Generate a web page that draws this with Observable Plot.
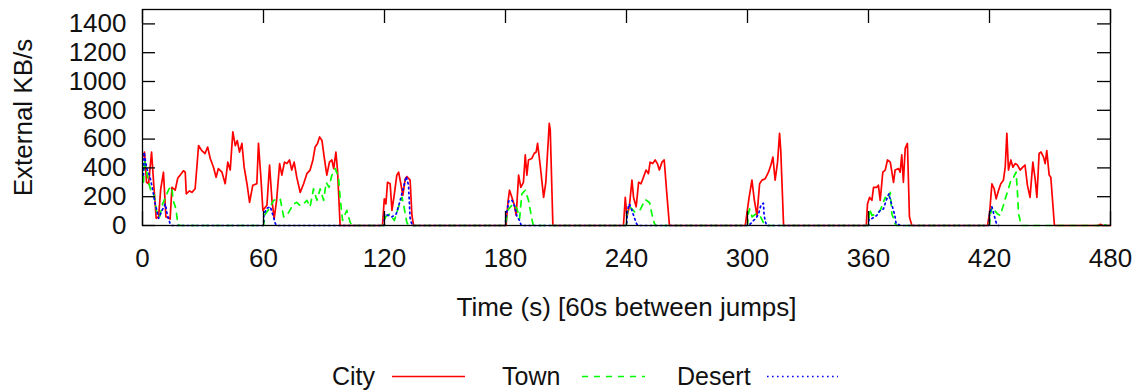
<!DOCTYPE html>
<html>
<head>
<meta charset="utf-8">
<script src="https://cdn.jsdelivr.net/npm/d3@7"></script>
<script src="https://cdn.jsdelivr.net/npm/@observablehq/plot@0.6"></script>
<style>
  html, body { margin: 0; padding: 0; background: #fff; }
  #chart { width: 1135px; }
  svg text { font-family: "Liberation Sans", Arial, Helvetica, sans-serif; }
</style>
</head>
<body>
<div id="chart"></div>
<div id="legend"></div>
<script>
// External traffic per location, [time (s), KB/s]
const city = [
  [0.5, 480], [1, 510], [2, 300], [3, 290], [4.5, 510], [5.5, 300], [6.8, 50], [8, 60], [9, 250],
  [10.4, 370], [11.6, 60], [13.7, 45], [14.6, 265], [16.2, 245], [17.5, 330], [18.7, 350], [20.3, 380],
  [21.2, 370], [21.7, 220], [23.3, 240], [24.5, 230], [26.1, 255], [27.8, 555], [29.4, 520], [31, 500],
  [32.3, 545], [33.6, 465], [35.2, 405], [36.5, 335], [37.6, 395], [39.4, 370], [41, 290], [42.3, 440],
  [43.5, 385], [44.8, 650], [46, 555], [47, 590], [48.1, 510], [49.3, 570], [50.4, 405], [51.8, 290],
  [53.1, 160], [54.7, 280], [56.7, 290], [57.5, 570], [58.7, 335], [59.7, 105], [61.7, 140], [63, 420],
  [64.2, 175], [65.3, 50], [66.5, 175], [68, 430], [69.1, 350], [70.4, 440], [71.6, 430], [72.9, 455],
  [74, 385], [75.2, 440], [76.5, 335], [78.2, 230], [79.9, 290], [81.5, 360], [83.1, 385], [84.5, 455],
  [85.6, 545], [86.8, 570], [87.8, 615], [89, 590], [90.1, 475], [91.4, 350], [92.7, 440], [93.9, 455],
  [94.8, 395], [95.9, 510], [96.7, 385], [98, 0],
  [119, 0], [119.9, 185], [120.7, 150], [121.5, 300], [122.8, 290], [123.7, 105], [124.9, 220],
  [126.1, 350], [127, 370], [128.1, 290], [129.1, 210], [130.3, 325], [131.1, 340], [132.7, 315],
  [133.6, 70], [134.4, 0],
  [180.3, 0], [181.2, 160], [182, 245], [183.2, 195], [184.4, 140], [185.3, 70], [186.5, 350],
  [187.6, 265], [188.9, 300], [189.8, 490], [190.6, 350], [191.4, 455], [193, 465], [194.2, 500],
  [195.2, 510], [195.9, 570], [197.2, 420], [198.9, 195], [200, 300], [201.7, 710], [202.2, 660], [203.5, 0],
  [238.5, 0], [239.4, 195], [240.2, 60], [241.4, 130], [242.7, 315], [243.5, 195], [244.8, 130],
  [246, 300], [247.2, 290], [248.4, 335], [249.7, 385], [250.9, 360], [251.7, 440], [253, 430],
  [254.2, 455], [255.3, 430], [256.3, 385], [257.6, 440], [258.7, 455], [260, 220], [261.3, 0],
  [298.9, 0], [299.8, 95], [300.8, 195], [302.2, 315], [303.4, 175], [304.7, 70], [306, 290],
  [307.2, 315], [308.8, 325], [310.4, 370], [311.6, 420], [312.6, 475], [313.7, 315], [314.9, 440],
  [315.9, 640], [316.5, 520], [317.9, 0],
  [358.9, 0], [359.5, 150], [360.5, 195], [361.7, 175], [362.5, 265], [364.1, 265], [364.9, 280],
  [365.8, 175], [367.1, 370], [368.3, 385], [369.4, 455], [370.8, 440], [371.6, 370], [372.4, 300],
  [373.2, 385], [374.9, 395], [375.7, 370], [376.5, 490], [377.3, 300], [378.2, 535], [379.3, 570],
  [380.3, 60], [381.5, 0],
  [419, 0], [420, 80], [421.2, 290], [422.3, 255], [423.3, 185], [424.5, 245], [425.6, 290],
  [426.9, 315], [427.8, 405], [428.6, 640], [429.4, 385], [430.6, 455], [431.6, 405], [432.7, 430],
  [433.9, 420], [435.2, 385], [436.5, 405], [437.6, 420], [438.8, 280], [440.1, 195], [441.5, 440],
  [442.7, 315], [443.5, 195], [444.6, 500], [445.6, 510], [446.8, 475], [447.6, 430], [448.4, 520],
  [449.6, 350], [450.4, 335], [452.2, 0],
  [474, 0], [475, 8], [476, 0], [480, 0]
];

const town = [
  [0.5, 300], [1, 460], [2, 380], [3, 300], [4, 250], [5.5, 230], [7, 100], [8.5, 60], [10, 150],
  [12.1, 220], [13.2, 255], [14.5, 270], [15.2, 175], [16.6, 115], [17.5, 10], [18.5, 0],
  [60, 0], [60.9, 80], [63, 120], [65, 175], [68.3, 185], [70, 60], [71.6, 70], [74.9, 150],
  [76.5, 160], [78, 140], [79.9, 150], [81.5, 175], [83.1, 130], [84.8, 255], [86.5, 175], [88.1, 255],
  [89.8, 175], [91.1, 300], [92.5, 265], [93.9, 350], [95.6, 395], [97.2, 335], [98, 195], [99.2, 35],
  [101.3, 105], [102, 70], [103, 20], [104, 0],
  [120, 0], [120.5, 60], [122.5, 80], [124.9, 35], [127, 130], [128.7, 195], [129.4, 150], [130.3, 80],
  [131.1, 20], [132, 0],
  [180, 0], [181.1, 105], [182.5, 130], [184, 150], [185.7, 115], [187, 50], [188.1, 220], [189.8, 245],
  [191.4, 175], [193, 50], [193.8, 0],
  [240, 0], [240.2, 80], [241.4, 130], [242.7, 115], [244, 95], [245.5, 105], [246.8, 110], [249.3, 180],
  [251.4, 160], [252.6, 80], [253.4, 35], [254.2, 0],
  [300, 0], [300.3, 70], [301, 115], [302.3, 60], [304.1, 80], [306.5, 60], [308.2, 12], [309, 0],
  [360, 0], [360.5, 115], [361.7, 70], [364.1, 80], [365.8, 105], [367.1, 150], [368.3, 195],
  [369.9, 175], [370.8, 230], [371.6, 80], [372.4, 50], [373.2, 12], [374, 0],
  [420, 0], [420.2, 50], [421.2, 130], [422.5, 105], [424, 80], [425.3, 70], [426.9, 140], [427.8, 185],
  [429.4, 255], [430.6, 315], [431.6, 325], [433.2, 370], [433.9, 220], [434.4, 80], [435, 48], [435.5, 0],
  [476, 0], [477, 10], [478, 0]
];

const desert = [
  [0.5, 350], [0.8, 510], [2, 400], [3.5, 350], [5.1, 245], [6.3, 150], [8, 50], [9.7, 105],
  [11.3, 150], [12.2, 80], [13.7, 12], [14.5, 0],
  [60, 0], [60.2, 80], [61.7, 120], [63.4, 130], [64.7, 70], [65.9, 12], [66.5, 0],
  [119.8, 0], [120, 80], [122, 70], [123.7, 60], [125.8, 80], [127.8, 175], [129.4, 265], [130.8, 340],
  [131.9, 280], [132.7, 50], [133.5, 12], [134, 0],
  [180, 0], [180.2, 60], [181.7, 175], [183.2, 175], [184.4, 140], [185.7, 60], [187, 35], [187.8, 0],
  [240, 0], [240.2, 35], [240.4, 105], [241.4, 150], [242.7, 105], [243.5, 70], [245, 12], [245.8, 0],
  [300, 0], [301.5, 12], [303, 35], [304.1, 48], [305.5, 80], [306.6, 140], [307.9, 155], [308.2, 80],
  [308.7, 35], [309.5, 0],
  [360, 0], [360.3, 48], [361.7, 48], [364.1, 70], [365.8, 105], [367.4, 115], [368.8, 175], [370.1, 220],
  [371.2, 160], [372.4, 105], [373.2, 58], [373.7, 12], [375, 6], [376, 0],
  [419.8, 0], [420, 80], [420.5, 105], [421.2, 130], [422.3, 70], [423.5, 12], [424.5, 0]
];

const xTicks = [0, 60, 120, 180, 240, 300, 360, 420, 480];
const yTicks = [0, 200, 400, 600, 800, 1000, 1200, 1400];

const seriesNames = ["City", "Town", "Desert"];
const seriesColors = ["#ff0000", "#00ff00", "#0000ff"];
const seriesDash = [null, "6,6", "1.6,3.4"];
const seriesData = [city, town, desert];

const W = 1135, H = 350;
const mL = 142, mR = 25, mT = 9, mB = 125;
const frameW = W - mL - mR, frameH = H - mT - mB;
const tickLenX = 14, tickLenY = 13;
const FONT = 26;

const lineMarks = seriesData.map((data, i) =>
  Plot.line(data, {
    x: d => d[0], y: d => d[1],
    stroke: seriesColors[i], strokeWidth: 1.7,
    strokeDasharray: seriesDash[i] ?? undefined
  })
);

const chart = Plot.plot({
  width: W, height: H,
  marginLeft: mL, marginRight: mR, marginTop: mT, marginBottom: mB,
  style: {fontFamily: '"Liberation Sans", Arial, Helvetica, sans-serif', color: "#111", background: "#fff"},
  x: {domain: [0, 480], axis: null},
  y: {domain: [0, 1500], axis: null},
  marks: [
    ...lineMarks,
    Plot.frame({stroke: "#000", strokeWidth: 1.3}),
    // inward ticks on all four sides
    Plot.tickX(xTicks, {x: d => d, stroke: "#000", strokeWidth: 1.3, insetTop: frameH - tickLenX}),
    Plot.tickX(xTicks, {x: d => d, stroke: "#000", strokeWidth: 1.3, insetBottom: frameH - tickLenX}),
    Plot.tickY(yTicks, {y: d => d, stroke: "#000", strokeWidth: 1.3, insetRight: frameW - tickLenY}),
    Plot.tickY(yTicks, {y: d => d, stroke: "#000", strokeWidth: 1.3, insetLeft: frameW - tickLenY}),
    Plot.axisX(xTicks, {anchor: "bottom", tickSize: 0, tickPadding: 23, fontSize: FONT, label: null, tickFormat: d => String(d)}),
    Plot.axisY(yTicks, {anchor: "left", tickSize: 0, tickPadding: 16, fontSize: FONT, label: null, tickFormat: d => String(d)}),
    Plot.text(["Time (s) [60s between jumps]"], {
      frameAnchor: "bottom", textAnchor: "middle", lineAnchor: "middle",
      dy: 82, fontSize: FONT, fill: "#111"
    }),
    Plot.text(["External KB/s"], {
      frameAnchor: "left", textAnchor: "middle", lineAnchor: "middle",
      dx: -119, rotate: -90, fontSize: FONT, fill: "#111"
    })
  ]
});
document.getElementById("chart").appendChild(chart);

// Legend row below the plot
const legendX = [
  {text: 332, line: 392, len: 73},
  {text: 502, line: 582, len: 63},
  {text: 677, line: 767, len: 71}
];
const leg = d3.select("#legend").append("svg")
  .attr("width", W).attr("height", 41)
  .style("display", "block");
seriesNames.forEach((name, i) => {
  const p = legendX[i];
  leg.append("text")
    .attr("x", p.text).attr("y", 35)
    .attr("font-size", 25).attr("fill", "#111")
    .text(name);
  leg.append("line")
    .attr("x1", p.line).attr("x2", p.line + p.len)
    .attr("y1", 26.5).attr("y2", 26.5)
    .attr("stroke", seriesColors[i]).attr("stroke-width", 1.5)
    .attr("stroke-dasharray", seriesDash[i]);
});
</script>
</body>
</html>
